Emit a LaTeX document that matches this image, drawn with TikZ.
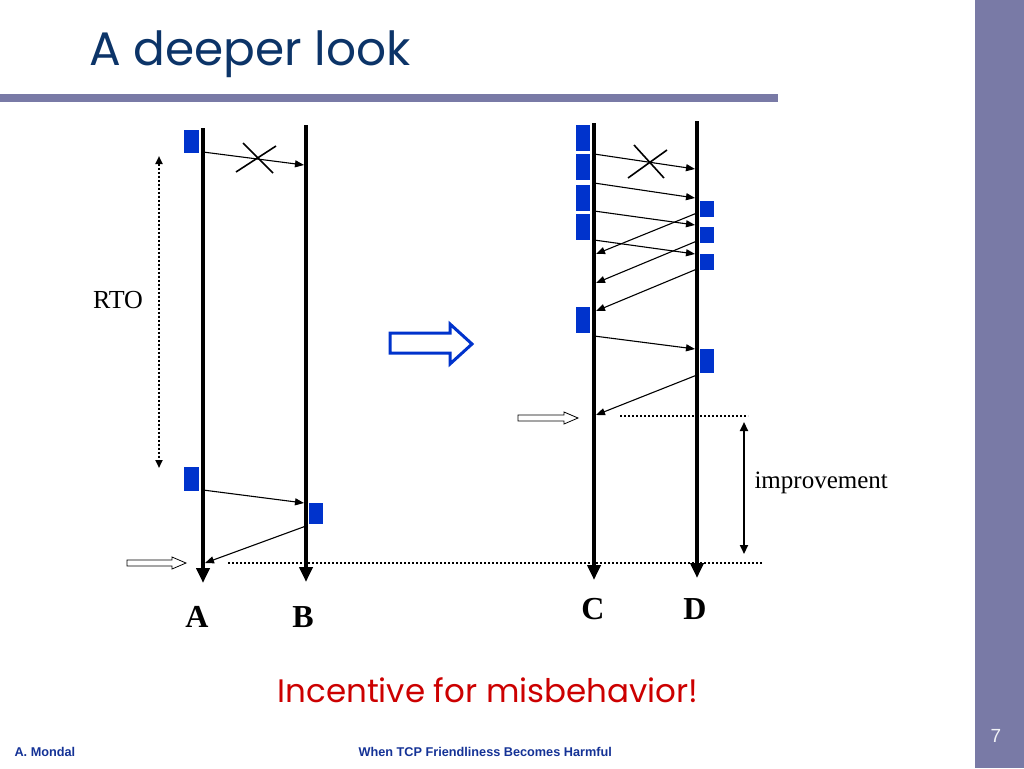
\documentclass[tikz,border=0pt]{standalone}
\usepackage{fontspec}
\setmainfont{Liberation Serif}
\newfontfamily\comicfont{Poppins}
\newfontfamily\arialfont{Liberation Sans}
\usetikzlibrary{arrows.meta}
\definecolor{barpurple}{RGB}{121,122,166}
\definecolor{titlenavy}{RGB}{12,52,104}
\definecolor{footnavy}{RGB}{20,50,150}
\definecolor{pktblue}{RGB}{0,51,204}
\definecolor{alertred}{RGB}{204,0,0}
\tikzset{
	timeline/.style={line width=4.5pt,-{Triangle[length=15pt,width=13pt]}},
	msg/.style={line width=1.1pt,-{Triangle[length=9pt,width=7pt]}},
	lost/.style={line width=1.6pt},
	pkt/.style={fill=pktblue,draw=none,inner sep=0pt,minimum width=14pt},
	hollow/.style={draw=black,line width=0.8pt,fill=white},
	dotline/.style={line width=2pt,dash pattern=on 2pt off 2pt},
	lbl/.style={font=\bfseries\fontsize{32}{32}\selectfont}
}
\begin{document}
\begin{tikzpicture}[x=1pt,y=-1pt]
	\useasboundingbox[fill=white] (0,0) rectangle (1024,768);
	\fill[barpurple] (975,0) rectangle (1024,768);
	\fill[barpurple] (0,94) rectangle (778,102);
	\node[anchor=base west,text=titlenavy,font=\comicfont\fontsize{47}{47}\selectfont] (title) at (86,66) {A deeper look};
	
	% left: sender A, receiver B
	\coordinate (Atop) at (203,128); \coordinate (Abot) at (203,583);
	\coordinate (Btop) at (306,125); \coordinate (Bbot) at (306,582);
	\draw[timeline] (Atop) -- (Abot);
	\draw[timeline] (Btop) -- (Bbot);
	\node[lbl] (lblA) at (197,617) {A};
	\node[lbl] (lblB) at (303,617) {B};
	
	\node[pkt,minimum width=15pt,minimum height=23pt,anchor=north east] (pa1) at (199,130) {};
	\node[pkt,minimum width=15pt,minimum height=24pt,anchor=north east] (pa2) at (199,467) {};
	\node[pkt,minimum height=21pt,anchor=north west] (pb1) at (309,503) {};
	
	\coordinate (l1s) at (203,152); \coordinate (l1e) at (304,165);
	\coordinate (l2s) at (203,490); \coordinate (l2e) at (304,503);
	\coordinate (l3s) at (306,526); \coordinate (l3e) at (205,563);
	\draw[msg] (l1s) -- (l1e);
	\draw[msg] (l2s) -- (l2e);
	\draw[msg] (l3s) -- (l3e);
	\draw[lost] (236,172) -- (276,146) (243,143) -- (273,173);
	
	\coordinate (rtoTop) at (159,156); \coordinate (rtoBot) at (159,468);
	\draw[dotline,{Triangle[length=8pt,width=7pt]}-{Triangle[length=8pt,width=7pt]}] (rtoTop) -- (rtoBot);
	\node[font=\fontsize{26}{26}\selectfont] (rto) at (118,300) {RTO};
	
	\draw[hollow] (127,560) -- (172,560) -- (172,557) -- (186,563) -- (172,569) -- (172,566) -- (127,566) -- cycle;
	
	% big arrow
	\draw[draw=pktblue,line width=3pt,fill=white] (390,333) -- (450,333) -- (450,324) -- (472,344) -- (450,364) -- (450,353) -- (390,353) -- cycle;
	
	% right: sender C, receiver D
	\coordinate (Ctop) at (594,123); \coordinate (Cbot) at (594,580);
	\coordinate (Dtop) at (697,121); \coordinate (Dbot) at (697,578);
	\draw[timeline] (Ctop) -- (Cbot);
	\draw[timeline] (Dtop) -- (Dbot);
	\node[lbl] (lblC) at (593,609) {C};
	\node[lbl] (lblD) at (695,609) {D};
	
	\node[pkt,minimum height=26pt,anchor=north east] (pc1) at (590,125) {};
	\node[pkt,minimum height=26pt,anchor=north east] (pc2) at (590,154) {};
	\node[pkt,minimum height=26pt,anchor=north east] (pc3) at (590,185) {};
	\node[pkt,minimum height=26pt,anchor=north east] (pc4) at (590,214) {};
	\node[pkt,minimum height=26pt,anchor=north east] (pc5) at (590,307) {};
	\node[pkt,minimum height=16pt,anchor=north west] (pd1) at (700,201) {};
	\node[pkt,minimum height=16pt,anchor=north west] (pd2) at (700,227) {};
	\node[pkt,minimum height=16pt,anchor=north west] (pd3) at (700,254) {};
	\node[pkt,minimum height=24pt,anchor=north west] (pd4) at (700,349) {};
	
	\coordinate (r1s) at (594,154); \coordinate (r1e) at (695,169);
	\coordinate (r2s) at (594,183); \coordinate (r2e) at (695,198);
	\coordinate (r3s) at (594,211); \coordinate (r3e) at (695,225);
	\coordinate (r4s) at (594,240); \coordinate (r4e) at (695,254);
	\coordinate (r5s) at (594,336); \coordinate (r5e) at (695,349);
	\draw[msg] (r1s) -- (r1e);
	\draw[msg] (r2s) -- (r2e);
	\draw[msg] (r3s) -- (r3e);
	\draw[msg] (r4s) -- (r4e);
	\draw[msg] (r5s) -- (r5e);
	\draw[lost] (634,145) -- (664,178) (628,178) -- (667,150);
	
	\coordinate (k1s) at (697,213); \coordinate (k1e) at (596,254);
	\coordinate (k2s) at (697,241); \coordinate (k2e) at (596,283);
	\coordinate (k3s) at (697,269); \coordinate (k3e) at (596,311);
	\coordinate (k4s) at (697,375); \coordinate (k4e) at (596,415);
	\draw[msg] (k1s) -- (k1e);
	\draw[msg] (k2s) -- (k2e);
	\draw[msg] (k3s) -- (k3e);
	\draw[msg] (k4s) -- (k4e);
	
	\draw[hollow] (518,415) -- (564,415) -- (564,412) -- (578,418) -- (564,424) -- (564,421) -- (518,421) -- cycle;
	
	% finish lines
	\coordinate (fastL) at (620,416); \coordinate (fastR) at (748,416);
	\coordinate (slowL) at (228,563); \coordinate (slowR) at (762,563);
	\draw[dotline] (fastL) -- (fastR);
	\draw[dotline] (slowL) -- (slowR);
	\coordinate (impTop) at (744,422); \coordinate (impBot) at (744,554);
	\draw[line width=2pt,{Triangle[length=9pt,width=8pt]}-{Triangle[length=9pt,width=8pt]}] (impTop) -- (impBot);
	\node[anchor=west,font=\fontsize{25}{25}\selectfont] (imp) at (751,483) {improvement};
	
	\node[text=alertred,font=\comicfont\fontsize{32.5}{32.5}\selectfont] (moral) at (488,690) {Incentive for misbehavior!};
	
	% footer
	\node[anchor=base west,text=footnavy,font=\arialfont\bfseries\fontsize{12.7}{12.7}\selectfont] (author) at (11,756) {A. Mondal};
	\node[anchor=base west,text=footnavy,font=\arialfont\bfseries\fontsize{12.7}{12.7}\selectfont] (talk) at (355,756) {When TCP Friendliness Becomes Harmful};
	\node[anchor=base,text=white!90!barpurple,font=\arialfont\fontsize{19}{19}\selectfont] (page) at (996,742) {7};
\end{tikzpicture}
\end{document}
